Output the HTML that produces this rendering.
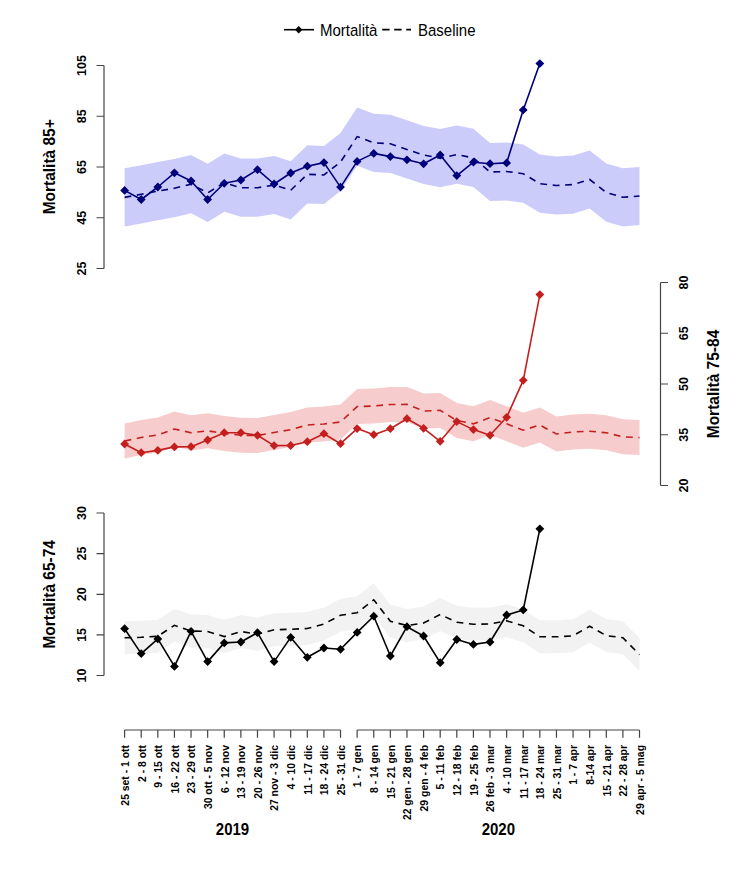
<!DOCTYPE html>
<html><head><meta charset="utf-8"><style>
html,body{margin:0;padding:0;background:#fff;width:750px;height:872px;overflow:hidden}
svg{display:block}
text{font-family:"Liberation Sans",sans-serif}
.lg{font-size:15px;fill:#000}
.yl{font-size:12.5px;font-weight:bold;text-anchor:middle;fill:#000}
.tt{font-size:15.5px;font-weight:bold;text-anchor:middle;fill:#000}
.xl{font-size:10.4px;font-weight:bold;text-anchor:end;fill:#000}
.yr{font-size:15px;font-weight:bold;text-anchor:middle;fill:#000}
</style></head><body>
<svg width="750" height="872" viewBox="0 0 750 872">
<rect width="750" height="872" fill="#fff"/>
<path d="M284 29.7H314" stroke="#000" stroke-width="1.6"/>
<path d="M298.7 26L302.4 29.7L298.7 33.4L295 29.7Z" fill="#000"/>
<text transform="translate(320,35.7) scale(1,1.1)" class="lg">Mortalità</text>
<path d="M382.2 29.7H411" stroke="#000" stroke-width="1.8" stroke-dasharray="7.4 4.6"/>
<text transform="translate(418,35.7) scale(1,1.1)" class="lg">Baseline</text>
<polygon points="124.6,168.3 141.21,165.2 157.82,162.1 174.43,159.1 191.04,155.1 207.65,163.8 224.26,153.6 240.87,158.6 257.48,158.6 274.09,155.9 290.7,161.2 307.31,145.2 323.92,145.9 340.53,132.9 357.14,107.5 373.75,113.7 390.36,114.7 406.97,120.3 423.58,125.9 440.19,129.1 456.8,125.5 473.41,128.8 490.02,142.9 506.63,142.4 523.24,144.6 539.85,154.6 556.46,156.4 573.07,155.5 589.68,150.4 606.29,163.5 622.9,168.2 639.51,166.9 639.51,225.1 622.9,226.4 606.29,221.7 589.68,208.6 573.07,213.7 556.46,214.6 539.85,212.8 523.24,202.8 506.63,200.6 490.02,201.1 473.41,187 456.8,183.7 440.19,187.3 423.58,184.1 406.97,178.5 390.36,172.9 373.75,171.9 357.14,165.7 340.53,191.1 323.92,204.1 307.31,203.4 290.7,219.4 274.09,214.1 257.48,216.8 240.87,216.8 224.26,211.8 207.65,222 191.04,213.3 174.43,217.3 157.82,220.3 141.21,223.4 124.6,226.5" fill="#ccccfa"/>
<polyline points="124.6,197.4 141.21,194.3 157.82,191.2 174.43,188.2 191.04,184.2 207.65,192.9 224.26,182.7 240.87,187.7 257.48,187.7 274.09,185 290.7,190.3 307.31,174.3 323.92,175 340.53,162 357.14,136.6 373.75,142.8 390.36,143.8 406.97,149.4 423.58,155 440.19,158.2 456.8,154.6 473.41,157.9 490.02,172 506.63,171.5 523.24,173.7 539.85,183.7 556.46,185.5 573.07,184.6 589.68,179.5 606.29,192.6 622.9,197.3 639.51,196" fill="none" stroke="#00007a" stroke-width="1.6" stroke-dasharray="6.8 5.65" stroke-dashoffset="0"/>
<polyline points="124.6,190.4 141.21,199.5 157.82,187 174.43,172.8 191.04,181 207.65,199.5 224.26,183.3 240.87,180 257.48,169.7 274.09,184 290.7,173 307.31,166.2 323.92,162.6 340.53,187.1 357.14,161.4 373.75,153.4 390.36,156.6 406.97,159.8 423.58,163.8 440.19,155 456.8,175.6 473.41,162.2 490.02,163.7 506.63,162.9 523.24,109.9 539.85,63.6" fill="none" stroke="#00007a" stroke-width="1.6" stroke-linejoin="round"/>
<path d="M124.6 186L129 190.4L124.6 194.8L120.2 190.4ZM141.21 195.1L145.61 199.5L141.21 203.9L136.81 199.5ZM157.82 182.6L162.22 187L157.82 191.4L153.42 187ZM174.43 168.4L178.83 172.8L174.43 177.2L170.03 172.8ZM191.04 176.6L195.44 181L191.04 185.4L186.64 181ZM207.65 195.1L212.05 199.5L207.65 203.9L203.25 199.5ZM224.26 178.9L228.66 183.3L224.26 187.7L219.86 183.3ZM240.87 175.6L245.27 180L240.87 184.4L236.47 180ZM257.48 165.3L261.88 169.7L257.48 174.1L253.08 169.7ZM274.09 179.6L278.49 184L274.09 188.4L269.69 184ZM290.7 168.6L295.1 173L290.7 177.4L286.3 173ZM307.31 161.8L311.71 166.2L307.31 170.6L302.91 166.2ZM323.92 158.2L328.32 162.6L323.92 167L319.52 162.6ZM340.53 182.7L344.93 187.1L340.53 191.5L336.13 187.1ZM357.14 157L361.54 161.4L357.14 165.8L352.74 161.4ZM373.75 149L378.15 153.4L373.75 157.8L369.35 153.4ZM390.36 152.2L394.76 156.6L390.36 161L385.96 156.6ZM406.97 155.4L411.37 159.8L406.97 164.2L402.57 159.8ZM423.58 159.4L427.98 163.8L423.58 168.2L419.18 163.8ZM440.19 150.6L444.59 155L440.19 159.4L435.79 155ZM456.8 171.2L461.2 175.6L456.8 180L452.4 175.6ZM473.41 157.8L477.81 162.2L473.41 166.6L469.01 162.2ZM490.02 159.3L494.42 163.7L490.02 168.1L485.62 163.7ZM506.63 158.5L511.03 162.9L506.63 167.3L502.23 162.9ZM523.24 105.5L527.64 109.9L523.24 114.3L518.84 109.9ZM539.85 59.2L544.25 63.6L539.85 68L535.45 63.6Z" fill="#00007a"/>
<path d="M104 65.5V268.5" stroke="#444" stroke-width="1.2" fill="none"/>
<path d="M96.5 65.5H104M96.5 116.25H104M96.5 167H104M96.5 217.75H104M96.5 268.5H104" stroke="#444" stroke-width="1.2" fill="none"/>
<text transform="translate(86,65.5) rotate(-90)" class="yl">105</text>
<text transform="translate(86,116.25) rotate(-90)" class="yl">85</text>
<text transform="translate(86,167) rotate(-90)" class="yl">65</text>
<text transform="translate(86,217.75) rotate(-90)" class="yl">45</text>
<text transform="translate(86,268.5) rotate(-90)" class="yl">25</text>
<text transform="translate(54.8,166.8) rotate(-90) scale(1,1.07)" class="tt">Mortalità 85+</text>
<polygon points="124.6,423.5 141.21,420 157.82,417.5 174.43,411.5 191.04,415.2 207.65,413.3 224.26,416 240.87,417.7 257.48,418.1 274.09,415 290.7,412.1 307.31,407.5 323.92,406.5 340.53,404.5 357.14,389.1 373.75,388.5 390.36,387 406.97,386.9 423.58,393.5 440.19,392.9 456.8,403 473.41,406.3 490.02,400.1 506.63,406.3 523.24,412.7 539.85,407.5 556.46,416.5 573.07,414.5 589.68,413.7 606.29,415.3 622.9,419.3 639.51,420.1 639.51,455.1 622.9,454.3 606.29,450.3 589.68,448.7 573.07,449.5 556.46,451.5 539.85,442.5 523.24,447.7 506.63,441.3 490.02,435.1 473.41,441.3 456.8,438 440.19,427.9 423.58,428.5 406.97,421.9 390.36,422 373.75,423.5 357.14,424.1 340.53,439.5 323.92,441.5 307.31,442.5 290.7,447.1 274.09,450 257.48,453.1 240.87,452.7 224.26,451 207.65,448.3 191.04,450.2 174.43,446.5 157.82,452.5 141.21,455 124.6,458.5" fill="#f6cccc"/>
<polyline points="124.6,441 141.21,437.5 157.82,435 174.43,429 191.04,432.7 207.65,430.8 224.26,433.5 240.87,435.2 257.48,435.6 274.09,432.5 290.7,429.6 307.31,425 323.92,424 340.53,422 357.14,406.6 373.75,406 390.36,404.5 406.97,404.4 423.58,411 440.19,410.4 456.8,420.5 473.41,423.8 490.02,417.6 506.63,423.8 523.24,430.2 539.85,425 556.46,434 573.07,432 589.68,431.2 606.29,432.8 622.9,436.8 639.51,437.6" fill="none" stroke="#c41f1f" stroke-width="1.6" stroke-dasharray="6.8 5.65" stroke-dashoffset="0"/>
<polyline points="124.6,444 141.21,452.7 157.82,450.4 174.43,446.9 191.04,446.7 207.65,440 224.26,432.7 240.87,432.7 257.48,435.3 274.09,445.6 290.7,445.5 307.31,441.7 323.92,433.7 340.53,443.7 357.14,428.6 373.75,434.7 390.36,428.7 406.97,418.7 423.58,428.3 440.19,441.3 456.8,421.6 473.41,429.6 490.02,435.3 506.63,417.3 523.24,380.3 539.85,294.6" fill="none" stroke="#c41f1f" stroke-width="1.6" stroke-linejoin="round"/>
<path d="M124.6 439.6L129 444L124.6 448.4L120.2 444ZM141.21 448.3L145.61 452.7L141.21 457.1L136.81 452.7ZM157.82 446L162.22 450.4L157.82 454.8L153.42 450.4ZM174.43 442.5L178.83 446.9L174.43 451.3L170.03 446.9ZM191.04 442.3L195.44 446.7L191.04 451.1L186.64 446.7ZM207.65 435.6L212.05 440L207.65 444.4L203.25 440ZM224.26 428.3L228.66 432.7L224.26 437.1L219.86 432.7ZM240.87 428.3L245.27 432.7L240.87 437.1L236.47 432.7ZM257.48 430.9L261.88 435.3L257.48 439.7L253.08 435.3ZM274.09 441.2L278.49 445.6L274.09 450L269.69 445.6ZM290.7 441.1L295.1 445.5L290.7 449.9L286.3 445.5ZM307.31 437.3L311.71 441.7L307.31 446.1L302.91 441.7ZM323.92 429.3L328.32 433.7L323.92 438.1L319.52 433.7ZM340.53 439.3L344.93 443.7L340.53 448.1L336.13 443.7ZM357.14 424.2L361.54 428.6L357.14 433L352.74 428.6ZM373.75 430.3L378.15 434.7L373.75 439.1L369.35 434.7ZM390.36 424.3L394.76 428.7L390.36 433.1L385.96 428.7ZM406.97 414.3L411.37 418.7L406.97 423.1L402.57 418.7ZM423.58 423.9L427.98 428.3L423.58 432.7L419.18 428.3ZM440.19 436.9L444.59 441.3L440.19 445.7L435.79 441.3ZM456.8 417.2L461.2 421.6L456.8 426L452.4 421.6ZM473.41 425.2L477.81 429.6L473.41 434L469.01 429.6ZM490.02 430.9L494.42 435.3L490.02 439.7L485.62 435.3ZM506.63 412.9L511.03 417.3L506.63 421.7L502.23 417.3ZM523.24 375.9L527.64 380.3L523.24 384.7L518.84 380.3ZM539.85 290.2L544.25 294.6L539.85 299L535.45 294.6Z" fill="#c41f1f"/>
<path d="M660.5 282.5V485.5" stroke="#444" stroke-width="1.2" fill="none"/>
<path d="M660.5 282.5H668.0M660.5 333.25H668.0M660.5 384H668.0M660.5 434.75H668.0M660.5 485.5H668.0" stroke="#444" stroke-width="1.2" fill="none"/>
<text transform="translate(688,282.5) rotate(-90)" class="yl">80</text>
<text transform="translate(688,333.25) rotate(-90)" class="yl">65</text>
<text transform="translate(688,384) rotate(-90)" class="yl">50</text>
<text transform="translate(688,434.75) rotate(-90)" class="yl">35</text>
<text transform="translate(688,485.5) rotate(-90)" class="yl">20</text>
<text transform="translate(718.6,384) rotate(-90) scale(1,1.07)" class="tt">Mortalità 75-84</text>
<polygon points="124.6,621.3 141.21,620.8 157.82,619.8 174.43,608.8 191.04,614.5 207.65,615 224.26,620.1 240.87,615 257.48,617.8 274.09,613.3 290.7,612.8 307.31,612 323.92,607.5 340.53,598.8 357.14,596.2 373.75,583.3 390.36,604.8 406.97,609 423.58,606.5 440.19,598 456.8,605.7 473.41,607.8 490.02,607.5 506.63,604.3 523.24,609.3 539.85,620.3 556.46,620.3 573.07,619.3 589.68,609.7 606.29,619.1 622.9,621.3 639.51,638.1 639.51,671.1 622.9,654.3 606.29,652.1 589.68,642.7 573.07,652.3 556.46,653.3 539.85,653.3 523.24,642.3 506.63,637.3 490.02,640.5 473.41,640.8 456.8,638.7 440.19,631 423.58,639.5 406.97,642 390.36,637.8 373.75,616.3 357.14,629.2 340.53,631.8 323.92,640.5 307.31,645 290.7,645.8 274.09,646.3 257.48,650.8 240.87,648 224.26,653.1 207.65,648 191.04,647.5 174.43,641.8 157.82,652.8 141.21,653.8 124.6,654.3" fill="#f2f2f2"/>
<polyline points="124.6,637.8 141.21,637.3 157.82,636.3 174.43,625.3 191.04,631 207.65,631.5 224.26,636.6 240.87,631.5 257.48,634.3 274.09,629.8 290.7,629.3 307.31,628.5 323.92,624 340.53,615.3 357.14,612.7 373.75,599.8 390.36,621.3 406.97,625.5 423.58,623 440.19,614.5 456.8,622.2 473.41,624.3 490.02,624 506.63,620.8 523.24,625.8 539.85,636.8 556.46,636.8 573.07,635.8 589.68,626.2 606.29,635.6 622.9,637.8 639.51,654.6" fill="none" stroke="#000" stroke-width="1.6" stroke-dasharray="6.8 5.65" stroke-dashoffset="0"/>
<polyline points="124.6,628.7 141.21,653.6 157.82,638.9 174.43,666.4 191.04,631.3 207.65,661.6 224.26,642.9 240.87,642 257.48,632.7 274.09,661.6 290.7,637.4 307.31,657.3 323.92,648 340.53,649.3 357.14,632.4 373.75,616.2 390.36,656 406.97,626.7 423.58,636 440.19,662.7 456.8,639.5 473.41,644.4 490.02,642 506.63,615 523.24,609.9 539.85,528.8" fill="none" stroke="#000" stroke-width="1.6" stroke-linejoin="round"/>
<path d="M124.6 624.3L129 628.7L124.6 633.1L120.2 628.7ZM141.21 649.2L145.61 653.6L141.21 658L136.81 653.6ZM157.82 634.5L162.22 638.9L157.82 643.3L153.42 638.9ZM174.43 662L178.83 666.4L174.43 670.8L170.03 666.4ZM191.04 626.9L195.44 631.3L191.04 635.7L186.64 631.3ZM207.65 657.2L212.05 661.6L207.65 666L203.25 661.6ZM224.26 638.5L228.66 642.9L224.26 647.3L219.86 642.9ZM240.87 637.6L245.27 642L240.87 646.4L236.47 642ZM257.48 628.3L261.88 632.7L257.48 637.1L253.08 632.7ZM274.09 657.2L278.49 661.6L274.09 666L269.69 661.6ZM290.7 633L295.1 637.4L290.7 641.8L286.3 637.4ZM307.31 652.9L311.71 657.3L307.31 661.7L302.91 657.3ZM323.92 643.6L328.32 648L323.92 652.4L319.52 648ZM340.53 644.9L344.93 649.3L340.53 653.7L336.13 649.3ZM357.14 628L361.54 632.4L357.14 636.8L352.74 632.4ZM373.75 611.8L378.15 616.2L373.75 620.6L369.35 616.2ZM390.36 651.6L394.76 656L390.36 660.4L385.96 656ZM406.97 622.3L411.37 626.7L406.97 631.1L402.57 626.7ZM423.58 631.6L427.98 636L423.58 640.4L419.18 636ZM440.19 658.3L444.59 662.7L440.19 667.1L435.79 662.7ZM456.8 635.1L461.2 639.5L456.8 643.9L452.4 639.5ZM473.41 640L477.81 644.4L473.41 648.8L469.01 644.4ZM490.02 637.6L494.42 642L490.02 646.4L485.62 642ZM506.63 610.6L511.03 615L506.63 619.4L502.23 615ZM523.24 605.5L527.64 609.9L523.24 614.3L518.84 609.9ZM539.85 524.4L544.25 528.8L539.85 533.2L535.45 528.8Z" fill="#000"/>
<path d="M104 513V675.5" stroke="#444" stroke-width="1.2" fill="none"/>
<path d="M96.5 513H104M96.5 553.6H104M96.5 594.3H104M96.5 634.9H104M96.5 675.5H104" stroke="#444" stroke-width="1.2" fill="none"/>
<text transform="translate(86,513) rotate(-90)" class="yl">30</text>
<text transform="translate(86,553.6) rotate(-90)" class="yl">25</text>
<text transform="translate(86,594.3) rotate(-90)" class="yl">20</text>
<text transform="translate(86,634.9) rotate(-90)" class="yl">15</text>
<text transform="translate(86,675.5) rotate(-90)" class="yl">10</text>
<text transform="translate(54.8,594.3) rotate(-90) scale(1,1.07)" class="tt">Mortalità 65-74</text>
<path d="M124.6 730H340.53" stroke="#444" stroke-width="1.2" fill="none"/>
<path d="M124.6 730V737.8M141.21 730V737.8M157.82 730V737.8M174.43 730V737.8M191.04 730V737.8M207.65 730V737.8M224.26 730V737.8M240.87 730V737.8M257.48 730V737.8M274.09 730V737.8M290.7 730V737.8M307.31 730V737.8M323.92 730V737.8M340.53 730V737.8" stroke="#444" stroke-width="1.2" fill="none"/>
<text transform="translate(128.9,745) rotate(-90)" class="xl">25 set - 1 ott</text>
<text transform="translate(145.51,745) rotate(-90)" class="xl">2 - 8 ott</text>
<text transform="translate(162.12,745) rotate(-90)" class="xl">9 - 15 ott</text>
<text transform="translate(178.73,745) rotate(-90)" class="xl">16 - 22 ott</text>
<text transform="translate(195.34,745) rotate(-90)" class="xl">23 - 29 ott</text>
<text transform="translate(211.95,745) rotate(-90)" class="xl">30 ott - 5 nov</text>
<text transform="translate(228.56,745) rotate(-90)" class="xl">6 - 12 nov</text>
<text transform="translate(245.17,745) rotate(-90)" class="xl">13 - 19 nov</text>
<text transform="translate(261.78,745) rotate(-90)" class="xl">20 - 26 nov</text>
<text transform="translate(278.39,745) rotate(-90)" class="xl">27 nov - 3 dic</text>
<text transform="translate(295,745) rotate(-90)" class="xl">4 - 10 dic</text>
<text transform="translate(311.61,745) rotate(-90)" class="xl">11 - 17 dic</text>
<text transform="translate(328.22,745) rotate(-90)" class="xl">18 - 24 dic</text>
<text transform="translate(344.83,745) rotate(-90)" class="xl">25 - 31 dic</text>
<path d="M357.14 730H639.51" stroke="#444" stroke-width="1.2" fill="none"/>
<path d="M357.14 730V737.8M373.75 730V737.8M390.36 730V737.8M406.97 730V737.8M423.58 730V737.8M440.19 730V737.8M456.8 730V737.8M473.41 730V737.8M490.02 730V737.8M506.63 730V737.8M523.24 730V737.8M539.85 730V737.8M556.46 730V737.8M573.07 730V737.8M589.68 730V737.8M606.29 730V737.8M622.9 730V737.8M639.51 730V737.8" stroke="#444" stroke-width="1.2" fill="none"/>
<text transform="translate(361.44,745) rotate(-90)" class="xl">1 - 7 gen</text>
<text transform="translate(378.05,745) rotate(-90)" class="xl">8 - 14 gen</text>
<text transform="translate(394.66,745) rotate(-90)" class="xl">15 - 21 gen</text>
<text transform="translate(411.27,745) rotate(-90)" class="xl">22 gen - 28 gen</text>
<text transform="translate(427.88,745) rotate(-90)" class="xl">29 gen - 4 feb</text>
<text transform="translate(444.49,745) rotate(-90)" class="xl">5 - 11 feb</text>
<text transform="translate(461.1,745) rotate(-90)" class="xl">12 - 18 feb</text>
<text transform="translate(477.71,745) rotate(-90)" class="xl">19 - 25 feb</text>
<text transform="translate(494.32,745) rotate(-90)" class="xl">26 feb - 3 mar</text>
<text transform="translate(510.93,745) rotate(-90)" class="xl">4 - 10 mar</text>
<text transform="translate(527.54,745) rotate(-90)" class="xl">11 - 17 mar</text>
<text transform="translate(544.15,745) rotate(-90)" class="xl">18 - 24 mar</text>
<text transform="translate(560.76,745) rotate(-90)" class="xl">25 - 31 mar</text>
<text transform="translate(577.37,745) rotate(-90)" class="xl">1 - 7 apr</text>
<text transform="translate(593.98,745) rotate(-90)" class="xl">8-14 apr</text>
<text transform="translate(610.59,745) rotate(-90)" class="xl">15 - 21 apr</text>
<text transform="translate(627.2,745) rotate(-90)" class="xl">22 - 28 apr</text>
<text transform="translate(643.81,745) rotate(-90)" class="xl">29 apr - 5 mag</text>
<text transform="translate(232.5,834.6) scale(1,1.1)" class="yr">2019</text>
<text transform="translate(498.3,834.6) scale(1,1.1)" class="yr">2020</text>
</svg>
</body></html>
